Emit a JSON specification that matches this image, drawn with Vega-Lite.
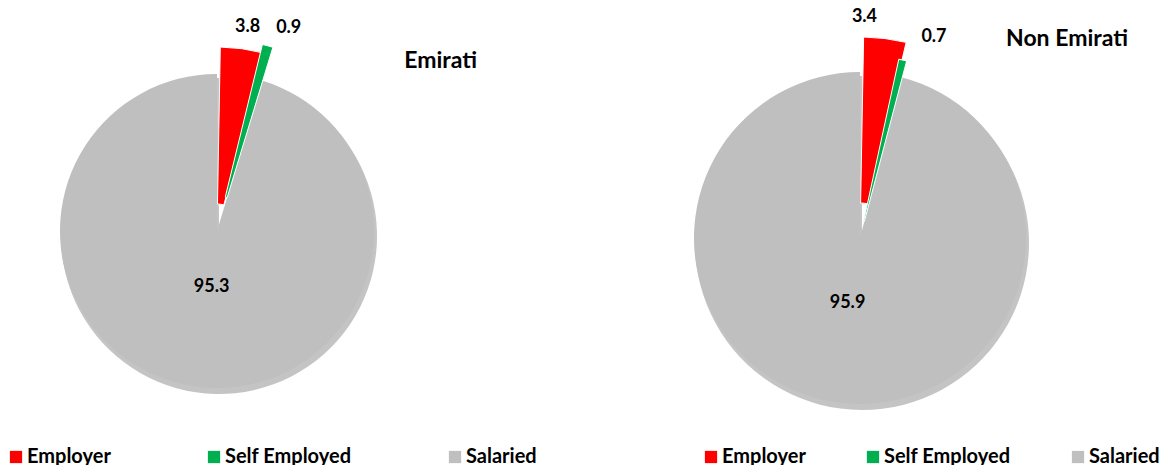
{
  "$schema": "https://vega.github.io/schema/vega-lite/v6.json",
  "padding": 0,
  "spacing": 114,
  "bounds": "flush",
  "background": "white",
  "config": {
    "view": {"stroke": null},
    "font": "Lato",
    "legend": {
      "orient": "none",
      "direction": "horizontal",
      "columns": 3,
      "symbolType": "square",
      "symbolSize": 150,
      "symbolStrokeWidth": 0,
      "symbolOpacity": 1,
      "labelFont": "Lato",
      "labelFontWeight": "bold",
      "labelFontSize": 20,
      "labelColor": "black",
      "labelOffset": 1,
      "labelLimit": 300,
      "title": null
    },
    "title": {"font": "Lato", "fontWeight": "bold", "fontSize": 23, "color": "black"}
  },
  "data": {
    "values": [
      {"group": "Emirati", "type": "Employer", "value": 3.8, "k": 1},
      {"group": "Emirati", "type": "Self Employed", "value": 0.9, "k": 2},
      {"group": "Emirati", "type": "Salaried", "value": 95.3, "k": 3},
      {"group": "Non Emirati", "type": "Employer", "value": 3.4, "k": 1},
      {"group": "Non Emirati", "type": "Self Employed", "value": 0.7, "k": 2},
      {"group": "Non Emirati", "type": "Salaried", "value": 95.9, "k": 3}
    ]
  },
  "resolve": {"scale": {"color": "independent", "theta": "independent"}, "legend": {"color": "independent"}},
  "hconcat": [
    {
      "width": 434,
      "height": 462,
      "transform": [{"filter": "datum.group === 'Emirati'"}],
      "title": {"text": "Emirati", "anchor": "end", "frame": "group", "orient": "top", "offset": 0, "baseline": "middle", "dx": 43, "dy": 84},
      "encoding": {
        "theta": {"field": "value", "type": "quantitative", "stack": true, "scale": {"domain": [0, 100]}},
        "order": {"field": "k", "type": "quantitative"}
      },
      "layer": [
        {
          "mark": {"type": "arc", "radius": 158, "color": "#8a8a8a", "xOffset": 2, "yOffset": 5},
          "encoding": {
            "detail": {"field": "type", "type": "nominal"},
            "opacity": {"condition": {"test": "datum.type === 'Salaried'", "value": 0.5}, "value": 0}
          }
        },
        {
          "mark": {"type": "arc", "radius": 157},
          "encoding": {
            "color": {"field": "type", "type": "nominal", "scale": {"domain": ["Employer", "Self Employed", "Salaried"], "range": ["#FF0000", "#00B050", "#BFBFBF"]}, "legend": {"legendX": 6, "legendY": 447, "columnPadding": 93}},
            "opacity": {"condition": {"test": "datum.type === 'Salaried'", "value": 1}, "value": 0}
          }
        },
        {
          "mark": {"type": "arc", "radius": 184, "radius2": 27, "thetaOffset": 0.018, "stroke": "white", "strokeWidth": 1},
          "encoding": {
            "color": {"field": "type", "type": "nominal", "scale": {"domain": ["Employer", "Self Employed", "Salaried"], "range": ["#FF0000", "#00B050", "#BFBFBF"]}, "legend": {"legendX": 6, "legendY": 447, "columnPadding": 93}},
            "opacity": {"condition": {"test": "datum.type === 'Employer'", "value": 1}, "value": 0}
          }
        },
        {
          "mark": {"type": "arc", "radius": 192, "radius2": 35, "stroke": "white", "strokeWidth": 1},
          "encoding": {
            "color": {"field": "type", "type": "nominal", "scale": {"domain": ["Employer", "Self Employed", "Salaried"], "range": ["#FF0000", "#00B050", "#BFBFBF"]}, "legend": {"legendX": 6, "legendY": 447, "columnPadding": 93}},
            "opacity": {"condition": {"test": "datum.type === 'Self Employed'", "value": 1}, "value": 0}
          }
        },
        {
          "mark": {"type": "text", "radius": 206, "dx": 6, "dy": 1, "fontSize": 18, "fontWeight": "bold", "color": "black", "align": "center", "baseline": "middle"},
          "encoding": {"text": {"condition": {"test": "datum.type === 'Employer'", "field": "value", "type": "quantitative", "format": ".1f"}, "value": ""}}
        },
        {
          "mark": {"type": "text", "radius": 215, "dx": 15, "dy": 4, "fontSize": 18, "fontWeight": "bold", "color": "black", "align": "center", "baseline": "middle"},
          "encoding": {"text": {"condition": {"test": "datum.type === 'Self Employed'", "field": "value", "type": "quantitative", "format": ".1f"}, "value": ""}}
        },
        {
          "mark": {"type": "text", "radius": 57, "dx": 3, "dy": 0, "fontSize": 18, "fontWeight": "bold", "color": "black", "align": "center", "baseline": "middle"},
          "encoding": {"text": {"condition": {"test": "datum.type === 'Salaried'", "field": "value", "type": "quantitative", "format": ".1f"}, "value": ""}}
        }
      ]
    },
    {
      "width": 624,
      "height": 462,
      "transform": [{"filter": "datum.group === 'Non Emirati'"}],
      "title": {"text": "Non Emirati", "anchor": "end", "frame": "group", "orient": "top", "offset": 0, "baseline": "middle", "dx": -44, "dy": 62},
      "encoding": {
        "theta": {"field": "value", "type": "quantitative", "stack": true, "scale": {"domain": [0, 100]}},
        "order": {"field": "k", "type": "quantitative"}
      },
      "layer": [
        {
          "mark": {"type": "arc", "radius": 167, "color": "#8a8a8a", "xOffset": 2, "yOffset": 12},
          "encoding": {
            "detail": {"field": "type", "type": "nominal"},
            "opacity": {"condition": {"test": "datum.type === 'Salaried'", "value": 0.5}, "value": 0}
          }
        },
        {
          "mark": {"type": "arc", "radius": 166, "yOffset": 7},
          "encoding": {
            "color": {"field": "type", "type": "nominal", "scale": {"domain": ["Employer", "Self Employed", "Salaried"], "range": ["#FF0000", "#00B050", "#BFBFBF"]}, "legend": {"legendX": 153, "legendY": 447, "columnPadding": 57}},
            "opacity": {"condition": {"test": "datum.type === 'Salaried'", "value": 1}, "value": 0}
          }
        },
        {
          "mark": {"type": "arc", "radius": 201, "radius2": 35, "thetaOffset": 0.018, "yOffset": 7, "stroke": "white", "strokeWidth": 1},
          "encoding": {
            "color": {"field": "type", "type": "nominal", "scale": {"domain": ["Employer", "Self Employed", "Salaried"], "range": ["#FF0000", "#00B050", "#BFBFBF"]}, "legend": {"legendX": 153, "legendY": 447, "columnPadding": 57}},
            "opacity": {"condition": {"test": "datum.type === 'Employer'", "value": 1}, "value": 0}
          }
        },
        {
          "mark": {"type": "arc", "radius": 183, "radius2": 17, "yOffset": 7, "stroke": "white", "strokeWidth": 1},
          "encoding": {
            "color": {"field": "type", "type": "nominal", "scale": {"domain": ["Employer", "Self Employed", "Salaried"], "range": ["#FF0000", "#00B050", "#BFBFBF"]}, "legend": {"legendX": 153, "legendY": 447, "columnPadding": 57}},
            "opacity": {"condition": {"test": "datum.type === 'Self Employed'", "value": 1}, "value": 0}
          }
        },
        {
          "mark": {"type": "text", "radius": 220, "yOffset": 7, "dx": -19, "dy": -2, "fontSize": 18, "fontWeight": "bold", "color": "black", "align": "center", "baseline": "middle"},
          "encoding": {"text": {"condition": {"test": "datum.type === 'Employer'", "field": "value", "type": "quantitative", "format": ".1f"}, "value": ""}}
        },
        {
          "mark": {"type": "text", "radius": 214, "yOffset": 7, "dx": 24, "dy": 7, "fontSize": 18, "fontWeight": "bold", "color": "black", "align": "center", "baseline": "middle"},
          "encoding": {"text": {"condition": {"test": "datum.type === 'Self Employed'", "field": "value", "type": "quantitative", "format": ".1f"}, "value": ""}}
        },
        {
          "mark": {"type": "text", "radius": 66, "yOffset": 7, "dx": -4, "dy": 0, "fontSize": 18, "fontWeight": "bold", "color": "black", "align": "center", "baseline": "middle"},
          "encoding": {"text": {"condition": {"test": "datum.type === 'Salaried'", "field": "value", "type": "quantitative", "format": ".1f"}, "value": ""}}
        }
      ]
    }
  ]
}
